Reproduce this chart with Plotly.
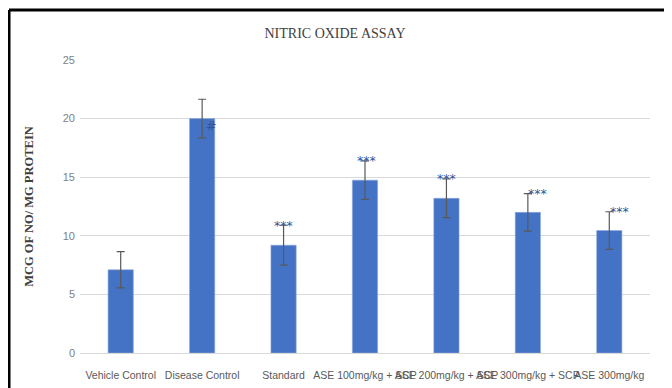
import plotly.graph_objects as go

categories = ["Vehicle Control", "Disease Control", "Standard",
              "ASE 100mg/kg + SCP", "ASE 200mg/kg + SCP",
              "ASE 300mg/kg + SCP", "ASE 300mg/kg"]
values = [7.1, 20.0, 9.2, 14.75, 13.2, 12.0, 10.45]
errors = [1.55, 1.65, 1.7, 1.65, 1.65, 1.6, 1.6]
marks = ["", "#", "***", "***", "***", "***", "***"]
y_ticks = [0, 5, 10, 15, 20, 25]

fig = go.Figure()
fig.add_trace(go.Bar(
    x=categories, y=values, width=0.31,
    marker=dict(color="#4472C4", line=dict(color="#8FAADC", width=0.6)),
    error_y=dict(type="data", array=errors, visible=True,
                 color="#595959", thickness=1.2, width=4),
))

xshifts = [0, 9, 0, 1, 0, 10, 10]
for i, (c, v, e, m) in enumerate(zip(categories, values, errors, marks)):
    if not m:
        continue
    if m == "#":
        yy = v - 0.6
    else:
        yy = v + e
    fig.add_annotation(x=c, y=yy, text=m, showarrow=False,
                       xshift=xshifts[i], yanchor="middle",
                       font=dict(family="DejaVu Sans", size=12.5, color="#2F5597"))

# page body adds an 8px offset; figure coordinates below account for it
OFF = 8
W, H = 672 - OFF, 388 - OFF
L, R, T = 80 - OFF, W - (650 - OFF), 60 - OFF
B = H - (352.7 - OFF)
pw, ph = W - L - R, H - T - B

def px_x(p):
    return (p - OFF - L) / pw

def px_y(p):
    return (H - B - (p - OFF)) / ph

frame = dict(color="black", width=3)
fig.add_shape(type="line", xref="paper", yref="paper",
              x0=px_x(9), x1=px_x(680), y0=px_y(10), y1=px_y(10), line=frame)
fig.add_shape(type="line", xref="paper", yref="paper",
              x0=px_x(9), x1=px_x(9), y0=px_y(10), y1=px_y(395), line=frame)

fig.update_layout(
    width=W, height=H,
    margin=dict(l=L, r=R, t=T, b=B, autoexpand=False),
    paper_bgcolor="white", plot_bgcolor="white",
    showlegend=False,
    title=dict(text="NITRIC OXIDE ASSAY", x=(335 - OFF) / W,
               xanchor="center", y=1 - (33 - OFF) / H, yanchor="middle",
               font=dict(family="Liberation Serif", size=14, color="#404040")),
    xaxis=dict(tickangle=0, showgrid=False, showline=False, ticks="",
               automargin=False, ticklabelstandoff=14,
               tickfont=dict(family="Liberation Sans", size=10.5, color="#595959"),
               range=[-0.5, 6.5]),
    yaxis=dict(range=[0, 25], tickvals=y_ticks, showgrid=True,
               automargin=False,
               gridcolor="#D9D9D9", gridwidth=1, zeroline=True,
               zerolinecolor="#D9D9D9", zerolinewidth=1, showline=False,
               ticks="", ticklabelstandoff=4,
               tickfont=dict(family="Liberation Sans", size=11, color="#7F7F7F"),
               title=dict(text="<b>MCG OF NO/ MG PROTEIN</b>", standoff=26,
                          font=dict(family="Liberation Serif", size=12.5,
                                    color="#404040"))),
)

fig.write_html("out.html")
